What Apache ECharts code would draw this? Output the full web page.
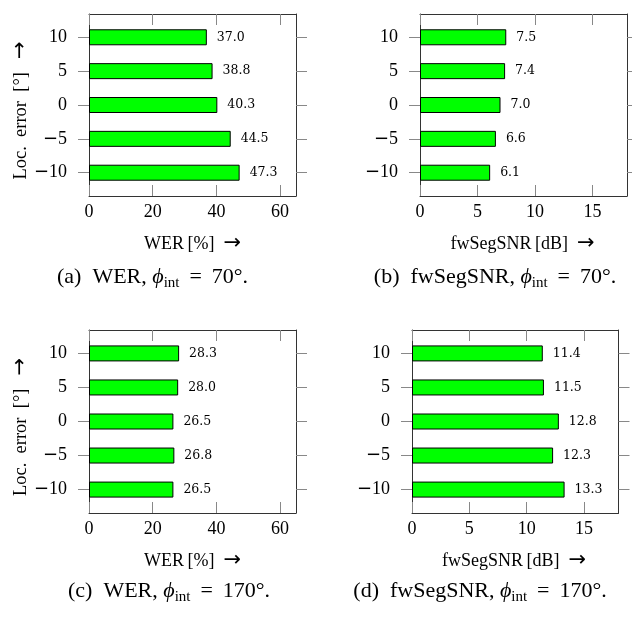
<!DOCTYPE html>
<html><head><meta charset="utf-8">
<script src="https://cdn.jsdelivr.net/npm/echarts@6/dist/echarts.min.js"></script>
<style>html,body{margin:0;padding:0;background:#fff}#c{width:632px;height:617px}</style>
</head><body><div id="c"></div>
<script>
// ---- data ----
const locErrors = [-10, -5, 0, 5, 10];
const werPhi70  = [47.3, 44.5, 40.3, 38.8, 37.0];
const snrPhi70  = [6.1, 6.6, 7.0, 7.4, 7.5];
const werPhi170 = [26.5, 26.8, 26.5, 28.0, 28.3];
const snrPhi170 = [13.3, 12.3, 12.8, 11.5, 11.4];
const werTicks = [0, 20, 40, 60];
const snrTicks = [0, 5, 10, 15];
const yTicks = [-10, -5, 0, 5, 10];
const werMax = 65, snrMax = 18, yLim = 13.44;

const serif = 'Liberation Serif';
const arrowStyle = {fontFamily: 'DejaVu Sans', fontSize: 21, fill: '#000'};
const panels = [
  {data: werPhi70, ticks: werTicks, max: werMax, box: {left: 89, top: 14, width: 207, height: 182},
   xName: 'WER\u2009[%]', xNamePos: [192.5, 244], yTitle: true,
   cap: {pre: '(a)', name: 'WER', ang: '70'}, capPos: [152.5, 277.5]},
  {data: snrPhi70, ticks: snrTicks, max: snrMax, box: {left: 420, top: 14, width: 207, height: 182},
   xName: 'fwSegSNR\u2009[dB]', xNamePos: [522.5, 244], yTitle: false,
   cap: {pre: '(b)', name: 'fwSegSNR', ang: '70'}, capPos: [495, 277.5]},
  {data: werPhi170, ticks: werTicks, max: werMax, box: {left: 89, top: 330, width: 207, height: 183},
   xName: 'WER\u2009[%]', xNamePos: [192.5, 561], yTitle: true,
   cap: {pre: '(c)', name: 'WER', ang: '170'}, capPos: [169, 591.5]},
  {data: snrPhi170, ticks: snrTicks, max: snrMax, box: {left: 412, top: 330, width: 206.5, height: 183},
   xName: 'fwSegSNR\u2009[dB]', xNamePos: [514, 561], yTitle: false,
   cap: {pre: '(d)', name: 'fwSegSNR', ang: '170'}, capPos: [480, 591.5]}
];

const fmtY = v => v < 0 ? '{m|\u2212}' + Math.abs(v) : String(v);
const option = {animation: false, backgroundColor: '#fff', grid: [], xAxis: [], yAxis: [], series: [], graphic: {elements: []}};

panels.forEach((p, i) => {
  const b = p.box;
  const inset = b.height * (yLim - 12.5) / (2 * yLim);
  option.grid.push({left: b.left, top: b.top, width: b.width, height: b.height});
  option.grid.push({left: b.left, top: b.top + inset, width: b.width, height: b.height - 2 * inset});
  const fg = 2 * i, bg = 2 * i + 1;
  ['bottom', 'top'].forEach(pos => option.xAxis.push({
    type: 'value', gridIndex: fg, position: pos, min: 0, max: p.max,
    axisLine: {show: true, onZero: false, lineStyle: {color: '#333', width: 1}},
    axisTick: {show: true, inside: true, length: 11, customValues: p.ticks, lineStyle: {color: '#888', width: 1}},
    axisLabel: {show: pos === 'bottom', customValues: p.ticks, margin: 7, color: '#000', fontFamily: serif, fontSize: 18},
    splitLine: {show: false}
  }));
  option.xAxis.push({type: 'value', gridIndex: bg, min: 0, max: p.max, show: false});
  ['left', 'right'].forEach(pos => option.yAxis.push({
    type: 'value', gridIndex: fg, position: pos, min: -yLim, max: yLim,
    axisLine: {show: true, onZero: false, lineStyle: {color: '#333', width: 1}},
    axisTick: {show: true, inside: false, length: 11, customValues: yTicks, lineStyle: {color: '#888', width: 1}},
    axisLabel: {show: pos === 'left', customValues: yTicks, margin: 22, color: '#000', fontFamily: serif, fontSize: 18, formatter: fmtY,
      rich: {m: {fontFamily: 'DejaVu Sans', fontSize: 18, color: '#000'}}},
    splitLine: {show: false}
  }));
  option.yAxis.push({type: 'category', gridIndex: bg, data: locErrors.map(String), show: false});
  option.series.push({
    type: 'bar', xAxisIndex: 3 * i + 2, yAxisIndex: 3 * i + 2, data: p.data, barWidth: 16, silent: true,
    itemStyle: {color: '#00ff00', borderColor: '#000', borderWidth: 1},
    label: {show: true, position: 'right', distance: 10, formatter: d => d.value.toFixed(1),
            fontFamily: 'DejaVu Serif', fontSize: 12.5, color: '#000'}
  });
  option.graphic.elements.push({type: 'text', x: p.xNamePos[0], y: p.xNamePos[1],
    style: {text: p.xName + '\u2002{arr|\u2192}', fill: '#000', fontFamily: serif, fontSize: 18, align: 'center', verticalAlign: 'middle',
      rich: {arr: arrowStyle}}});
  if (p.yTitle) {
    option.graphic.elements.push({type: 'text', x: 21, y: b.top + b.height / 2 + 5.5, rotation: Math.PI / 2,
      style: {text: 'Loc.\u2002error\u2002[\u00b0]\u2002\u2009{arr|\u2192}', fill: '#000', fontFamily: serif, fontSize: 18.5, align: 'center', verticalAlign: 'middle',
        rich: {arr: arrowStyle}}});
  }
  option.graphic.elements.push({type: 'text', x: p.capPos[0], y: p.capPos[1],
    style: {text: p.cap.pre + '\u2002' + p.cap.name + ', {phi|\u03d5}{sub|int} \u2009=\u2009 ' + p.cap.ang + '\u00b0.',
      fill: '#000', fontFamily: serif, fontSize: 22, lineHeight: 26, align: 'center', verticalAlign: 'middle',
      rich: {
        phi: {fontFamily: serif, fontSize: 22, fontStyle: 'italic', lineHeight: 26, fill: '#000'},
        sub: {fontFamily: serif, fontSize: 15, lineHeight: 15, padding: [11, 0, 0, 0], fill: '#000'}
      }}});
});

const chart = echarts.init(document.getElementById('c'), null, {renderer: 'canvas'});
chart.setOption(option);
</script></body></html>
